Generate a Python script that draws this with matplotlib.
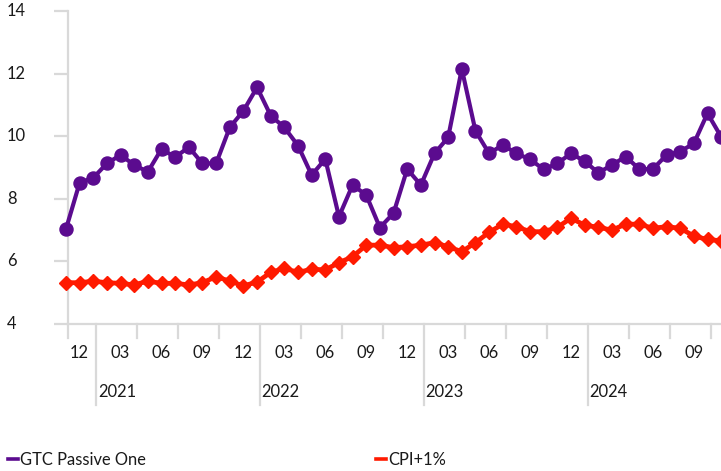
import matplotlib
matplotlib.use("Agg")
import matplotlib.pyplot as plt
from matplotlib.transforms import blended_transform_factory

plt.rcParams['font.family'] = ['Lato', 'DejaVu Sans']

# Monthly data Nov 2020 .. Nov 2024
months = ["2020-11", "2020-12"] + [f"{y}-{m:02d}" for y in (2021, 2022, 2023) for m in range(1, 13)] + \
         [f"2024-{m:02d}" for m in range(1, 12)]

gtc = [7.03, 8.51, 8.67, 9.13, 9.40, 9.08, 8.86, 9.59, 9.33, 9.65, 9.13, 9.13,
       10.28, 10.81, 11.56, 10.66, 10.28, 9.70, 8.76, 9.27, 7.43, 8.44, 8.12, 7.08,
       7.54, 8.95, 8.44, 9.45, 9.96, 12.15, 10.17, 9.45, 9.72, 9.45, 9.26, 8.94,
       9.13, 9.45, 9.20, 8.83, 9.08, 9.35, 8.95, 8.95, 9.40, 9.51, 9.77, 10.73, 9.98]

cpi = [5.32, 5.32, 5.37, 5.32, 5.30, 5.25, 5.37, 5.30, 5.30, 5.25, 5.32, 5.51,
       5.37, 5.22, 5.34, 5.65, 5.78, 5.65, 5.75, 5.73, 5.96, 6.15, 6.52, 6.52,
       6.44, 6.47, 6.52, 6.60, 6.47, 6.31, 6.60, 6.93, 7.19, 7.11, 6.95, 6.95,
       7.09, 7.38, 7.16, 7.09, 7.00, 7.19, 7.19, 7.06, 7.11, 7.06, 6.81, 6.70, 6.66]

yticks = [4, 6, 8, 10, 12, 14]
series_names = ["GTC Passive One", "CPI+1%"]

PURPLE = "#5b0b8f"
RED = "#ff1a00"
GRID = "#d9d9d9"
TXT = "#1a1a1a"
FS = 11.9

W, H = 721, 471
fig = plt.figure(figsize=(W / 100, H / 100), dpi=100)
ax_l, ax_r, ax_t, ax_b = 68, 721, 11, 324
ax = fig.add_axes([ax_l / W, 1 - ax_b / H, (ax_r - ax_l) / W, (ax_b - ax_t) / H])

x = list(range(len(months)))
ax.plot(x, gtc, color=PURPLE, lw=3.0, marker='o', ms=9.4, mec=PURPLE, mfc=PURPLE,
        clip_on=False, zorder=4, solid_joinstyle='round')
ax.plot(x, cpi, color=RED, lw=3.4, marker='D', ms=7.6, mec=RED, mfc=RED,
        clip_on=False, zorder=3)

x0 = 0.15
ax.set_xlim(x0, x0 + (ax_r - ax_l) / 13.65)
ax.set_ylim(4, 14)

for s in ['top', 'right']:
    ax.spines[s].set_visible(False)
for s in ['left', 'bottom']:
    ax.spines[s].set_color(GRID)
    ax.spines[s].set_linewidth(1.6)

# y ticks: marks only, labels drawn left-aligned
ax.set_yticks(yticks)
ax.set_yticklabels([])
ax.tick_params(axis='y', length=10, width=1.6, color=GRID, direction='out')
ytr = ax.get_yaxis_transform()
for v in yticks:
    ax.text(-(ax_l - 7) / (ax_r - ax_l), v, str(v), transform=ytr, ha='left', va='center',
            fontsize=FS, color=TXT)

# x ticks
ax.set_xticks([])
xtr = blended_transform_factory(ax.transData, fig.transFigure)

def vtick(xpos, length_px):
    ax.plot([xpos, xpos], [1 - ax_b / H, 1 - (ax_b + length_px) / H], transform=xtr,
            color=GRID, lw=1.6, clip_on=False, zorder=1)

vtick(x0, 14)
for i, m in enumerate(months):
    yr, mo = m.split('-')
    mo = int(mo)
    if mo in (1, 4, 7, 10):
        vtick(i + 0.22, 81 if mo == 1 else 14)
    if mo in (3, 6, 9, 12):
        ax.text(i, 1 - 353 / H, f"{mo:02d}", transform=xtr, ha='center', va='center',
                fontsize=FS, color=TXT)
    if mo == 1:
        ax.text(i + 0.22 + 0.12, 1 - 392 / H, yr, transform=xtr, ha='left', va='center',
                fontsize=FS, color=TXT)

# legend
ly = 1 - 460 / H
for (xl, name, col) in [(8, series_names[0], PURPLE), (376, series_names[1], RED)]:
    fig.add_artist(plt.Line2D([xl / W, (xl + 10) / W], [1 - 459 / H] * 2,
                              color=col, lw=2.6, transform=fig.transFigure))
    fig.text((xl + 12) / W, ly, name, ha='left', va='center', fontsize=FS, color=TXT)

fig.savefig("out.png", dpi=100)
